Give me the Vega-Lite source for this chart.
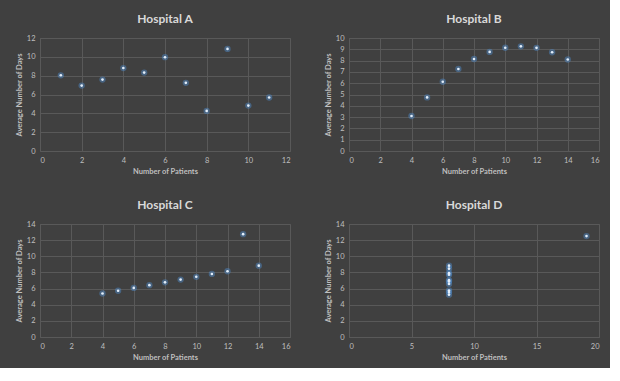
{
  "$schema": "https://vega.github.io/schema/vega-lite/v6.json",
  "background": "#404040",
  "padding": {"left": 14, "top": 12, "right": 10, "bottom": 6},
  "datasets": {
    "pts": [
      {"h": "A", "x": 1, "y": 8.04}, {"h": "A", "x": 2, "y": 6.95}, {"h": "A", "x": 3, "y": 7.58}, {"h": "A", "x": 4, "y": 8.81}, {"h": "A", "x": 5, "y": 8.33}, {"h": "A", "x": 6, "y": 9.96}, {"h": "A", "x": 7, "y": 7.24}, {"h": "A", "x": 8, "y": 4.26}, {"h": "A", "x": 9, "y": 10.84}, {"h": "A", "x": 10, "y": 4.82}, {"h": "A", "x": 11, "y": 5.68},
      {"h": "B", "x": 10, "y": 9.14}, {"h": "B", "x": 8, "y": 8.14}, {"h": "B", "x": 13, "y": 8.74}, {"h": "B", "x": 9, "y": 8.77}, {"h": "B", "x": 11, "y": 9.26}, {"h": "B", "x": 14, "y": 8.10}, {"h": "B", "x": 6, "y": 6.13}, {"h": "B", "x": 4, "y": 3.10}, {"h": "B", "x": 12, "y": 9.13}, {"h": "B", "x": 7, "y": 7.26}, {"h": "B", "x": 5, "y": 4.74},
      {"h": "C", "x": 10, "y": 7.46}, {"h": "C", "x": 8, "y": 6.77}, {"h": "C", "x": 13, "y": 12.74}, {"h": "C", "x": 9, "y": 7.11}, {"h": "C", "x": 11, "y": 7.81}, {"h": "C", "x": 14, "y": 8.84}, {"h": "C", "x": 6, "y": 6.08}, {"h": "C", "x": 4, "y": 5.39}, {"h": "C", "x": 12, "y": 8.15}, {"h": "C", "x": 7, "y": 6.42}, {"h": "C", "x": 5, "y": 5.73},
      {"h": "D", "x": 8, "y": 6.58}, {"h": "D", "x": 8, "y": 5.76}, {"h": "D", "x": 8, "y": 7.71}, {"h": "D", "x": 8, "y": 8.84}, {"h": "D", "x": 8, "y": 8.47}, {"h": "D", "x": 8, "y": 7.04}, {"h": "D", "x": 8, "y": 5.25}, {"h": "D", "x": 19, "y": 12.50}, {"h": "D", "x": 8, "y": 5.56}, {"h": "D", "x": 8, "y": 7.91}, {"h": "D", "x": 8, "y": 6.89}
    ]
  },
  "data": {"name": "pts"},
  "columns": 2,
  "spacing": {"row": 22, "column": 32},
  "concat": [
    {
      "width": 250, "height": 113,
      "title": "Hospital A",
      "transform": [{"filter": "datum.h == 'A'"}],
      "encoding": {
        "x": {"field": "x", "type": "quantitative", "title": "Number of Patients", "scale": {"domain": [0, 12], "nice": false}, "axis": {"values": [0, 2, 4, 6, 8, 10, 12]}},
        "y": {"field": "y", "type": "quantitative", "title": "Average Number of Days", "scale": {"domain": [0, 12], "nice": false}, "axis": {"values": [0, 2, 4, 6, 8, 10, 12]}}
      },
      "layer": [
        {"mark": {"type": "circle", "size": 40, "color": "#4f8fd0", "opacity": 0.45}},
        {"mark": {"type": "circle", "size": 7, "color": "#e3eefa", "opacity": 1}}
      ]
    },
    {
      "width": 250, "height": 113,
      "title": "Hospital B",
      "transform": [{"filter": "datum.h == 'B'"}],
      "encoding": {
        "x": {"field": "x", "type": "quantitative", "title": "Number of Patients", "scale": {"domain": [0, 16], "nice": false}, "axis": {"values": [0, 2, 4, 6, 8, 10, 12, 14, 16]}},
        "y": {"field": "y", "type": "quantitative", "title": "Average Number of Days", "scale": {"domain": [0, 10], "nice": false}, "axis": {"values": [0, 1, 2, 3, 4, 5, 6, 7, 8, 9, 10]}}
      },
      "layer": [
        {"mark": {"type": "circle", "size": 40, "color": "#4f8fd0", "opacity": 0.45}},
        {"mark": {"type": "circle", "size": 7, "color": "#e3eefa", "opacity": 1}}
      ]
    },
    {
      "width": 250, "height": 113,
      "title": "Hospital C",
      "transform": [{"filter": "datum.h == 'C'"}],
      "encoding": {
        "x": {"field": "x", "type": "quantitative", "title": "Number of Patients", "scale": {"domain": [0, 16], "nice": false}, "axis": {"values": [0, 2, 4, 6, 8, 10, 12, 14, 16]}},
        "y": {"field": "y", "type": "quantitative", "title": "Average Number of Days", "scale": {"domain": [0, 14], "nice": false}, "axis": {"values": [0, 2, 4, 6, 8, 10, 12, 14]}}
      },
      "layer": [
        {"mark": {"type": "circle", "size": 40, "color": "#4f8fd0", "opacity": 0.45}},
        {"mark": {"type": "circle", "size": 7, "color": "#e3eefa", "opacity": 1}}
      ]
    },
    {
      "width": 250, "height": 113,
      "title": "Hospital D",
      "transform": [{"filter": "datum.h == 'D'"}],
      "encoding": {
        "x": {"field": "x", "type": "quantitative", "title": "Number of Patients", "scale": {"domain": [0, 20], "nice": false}, "axis": {"values": [0, 5, 10, 15, 20]}},
        "y": {"field": "y", "type": "quantitative", "title": "Average Number of Days", "scale": {"domain": [0, 14], "nice": false}, "axis": {"values": [0, 2, 4, 6, 8, 10, 12, 14]}}
      },
      "layer": [
        {"mark": {"type": "circle", "size": 40, "color": "#4f8fd0", "opacity": 0.45}},
        {"mark": {"type": "circle", "size": 7, "color": "#e3eefa", "opacity": 1}}
      ]
    }
  ],
  "config": {
    "font": "Lato",
    "view": {"stroke": "#595959", "strokeWidth": 1},
    "title": {"fontSize": 12, "fontWeight": "bold", "color": "#d9d9d9", "offset": 8, "anchor": "middle"},
    "axis": {
      "gridColor": "#595959", "gridWidth": 1,
      "domainColor": "#595959",
      "ticks": false,
      "labelColor": "#bfbfbf", "labelFontSize": 7.5, "labelFont": "Lato",
      "titleColor": "#bfbfbf", "titleFontSize": 7.5, "titleFontWeight": "bold", "titleFont": "Lato"
    },
    "axisX": {"labelPadding": 5, "titlePadding": 4},
    "axisY": {"labelPadding": 5, "titleX": -17}
  }
}
